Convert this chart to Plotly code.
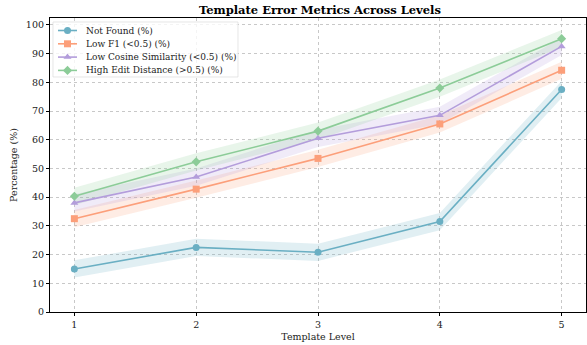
import plotly.graph_objects as go

levels = [1, 2, 3, 4, 5]
series_names = ["Not Found (%)", "Low F1 (<0.5) (%)", "Low Cosine Similarity (<0.5) (%)", "High Edit Distance (>0.5) (%)"]
not_found = [15.0, 22.5, 20.8, 31.5, 77.5]
low_f1 = [32.5, 42.8, 53.5, 65.5, 84.2]
low_cos = [38.0, 47.0, 60.5, 68.5, 92.5]
high_edit = [40.3, 52.3, 63.0, 78.0, 95.2]
band = [3.0, 3.0, 3.0, 3.0, 3.0]

colors = ["#6aafc3", "#fc9f7a", "#b39ddb", "#8ccc98"]
fills = ["rgba(106,175,195,0.2)", "rgba(252,159,122,0.2)", "rgba(179,157,219,0.2)", "rgba(140,204,152,0.2)"]
symbols = ["circle", "square", "triangle-up", "diamond"]
data = [not_found, low_f1, low_cos, high_edit]

W, H = 587, 345
ML, MR, MT, MB = 50, 1, 18, 33
PW, PH = W - ML - MR, H - MT - MB
XR = [0.8, 5.2]
YR = [0, 102.4]


def px2x(p):
    return XR[0] + p / PW * (XR[1] - XR[0])


def px2y(p):
    return YR[0] + p / PH * (YR[1] - YR[0])


fig = go.Figure()
for vals, col, fc in zip(data, colors, fills):
    upper = [v + b for v, b in zip(vals, band)]
    lower = [v - b for v, b in zip(vals, band)]
    fig.add_trace(go.Scatter(x=levels + levels[::-1], y=upper + lower[::-1], fill="toself",
                             fillcolor=fc, line=dict(width=0), hoverinfo="skip", showlegend=False, mode="lines"))
for name, vals, col, sym in zip(series_names, data, colors, symbols):
    fig.add_trace(go.Scatter(x=levels, y=vals, name=name, mode="lines+markers",
                             line=dict(color=col, width=1.6), showlegend=False,
                             marker=dict(symbol=sym, size=7, color=col)))

# manual compact legend (pixel offsets inside plot area converted to axis units)
shapes = [dict(type="rect", xref="x", yref="y", x0=px2x(3), x1=px2x(188), y0=px2y(PH - 59), y1=px2y(PH - 4),
               fillcolor="rgba(255,255,255,0.8)", line=dict(color="rgba(215,215,215,0.8)", width=0.8),
               layer="between")]
annotations = []
for i, (name, col, sym) in enumerate(zip(series_names, colors, symbols)):
    yy = px2y(PH - (12.5 + 13.3 * i))
    fig.add_trace(go.Scatter(x=[px2x(8), px2x(27)], y=[yy, yy], mode="lines",
                             line=dict(color=col, width=1.6), showlegend=False, hoverinfo="skip"))
    fig.add_trace(go.Scatter(x=[px2x(17.5)], y=[yy], mode="markers",
                             marker=dict(symbol=sym, size=7, color=col), showlegend=False, hoverinfo="skip"))
    annotations.append(dict(text=name, x=px2x(34), y=yy, xref="x", yref="y", xanchor="left", yanchor="middle",
                            showarrow=False, font=dict(family="DejaVu Serif", size=9, color="#222")))

axis_common = dict(showline=True, linecolor="black", linewidth=1.2, mirror=True,
                   showgrid=True, gridcolor="#c8c8c8", griddash="dot", gridwidth=1,
                   ticks="outside", ticklen=3, tickcolor="black", zeroline=False,
                   tickfont=dict(family="DejaVu Serif", size=9.5, color="#222"))
fig.update_layout(
    width=W, height=H,
    margin=dict(l=ML, r=MR, t=MT, b=MB),
    paper_bgcolor="white", plot_bgcolor="white",
    font=dict(family="DejaVu Serif", size=9, color="#222"),
    title=dict(text="<b>Template Error Metrics Across Levels</b>", x=0.545, xanchor="center",
               y=0.982, yanchor="top", font=dict(family="DejaVu Serif", size=11.5, color="black")),
    xaxis=dict(range=XR, tickvals=levels, ticktext=[str(l) for l in levels],
               title=dict(text="Template Level", standoff=4, font=dict(size=9.5)), **axis_common),
    yaxis=dict(range=YR, dtick=10,
               title=dict(text="Percentage (%)", standoff=6, font=dict(size=9.5)), **axis_common),
    shapes=shapes, annotations=annotations, showlegend=False,
)
fig.write_html("out.html")
